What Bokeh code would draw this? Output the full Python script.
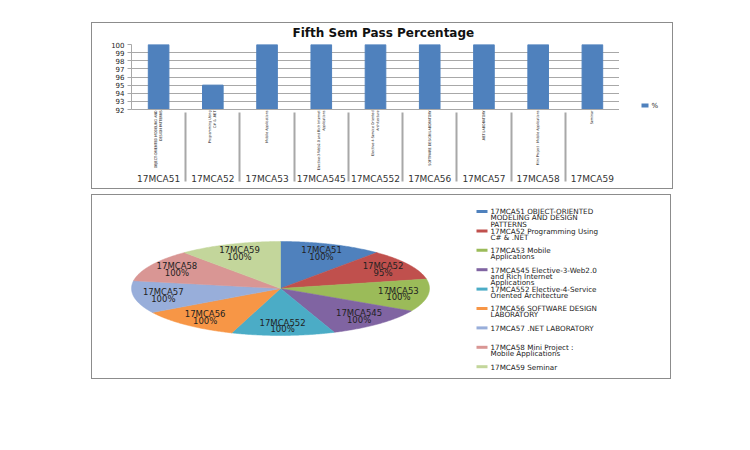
import numpy as np
from bokeh.plotting import figure
from bokeh.models import (FactorRange, Range1d, FixedTicker, Spacer, ColumnDataSource)
from bokeh.layouts import column, row
from bokeh.core.properties import value
from bokeh.embed import file_html
from bokeh.resources import INLINE

# ---------------- data ----------------
codes = ["17MCA51", "17MCA52", "17MCA53", "17MCA545", "17MCA552",
         "17MCA56", "17MCA57", "17MCA58", "17MCA59"]
axis_names = ["OBJECT-ORIENTED MODELING AND\nDESIGN PATTERNS",
              "Programming Using\nC# & .NET",
              "Mobile Applications",
              "Elective-3-Web2.0 and Rich Internet\nApplications",
              "Elective-4-Service Oriented\nArchitecture",
              "SOFTWARE DESIGN LABORATORY",
              ".NET LABORATORY",
              "Mini Project : Mobile Applications",
              "Seminar"]
legend_names = ["17MCA51 OBJECT-ORIENTED\nMODELING AND DESIGN\nPATTERNS",
                "17MCA52 Programming Using\nC# & .NET",
                "17MCA53 Mobile\nApplications",
                "17MCA545 Elective-3-Web2.0\nand Rich Internet\nApplications",
                "17MCA552 Elective-4-Service\nOriented Architecture",
                "17MCA56 SOFTWARE DESIGN\nLABORATORY",
                "17MCA57 .NET LABORATORY",
                "17MCA58 Mini Project :\nMobile Applications",
                "17MCA59 Seminar"]
pass_pct = [100, 95, 100, 100, 100, 100, 100, 100, 100]
y_ticks = [92, 93, 94, 95, 96, 97, 98, 99, 100]
series_name = "%"
slice_colors = ["#4F81BD", "#C0504D", "#9BBB59", "#8064A2", "#4BACC6",
                "#F79646", "#98AEDA", "#D99694", "#C3D69B"]

FONT = "DejaVu Sans"
GRID = "#a8a8a8"
BOX = "1px solid #8c8c8c"

# ---------------- bar chart ----------------
factors = list(zip(codes, axis_names))
xr = FactorRange(factors=factors, factor_padding=0, group_padding=0,
                 subgroup_padding=0, range_padding=0)
p1 = figure(x_range=xr, y_range=Range1d(y_ticks[0], y_ticks[-1]),
            width=527, height=165, output_backend="svg", toolbar_location=None,
            min_border_left=39, min_border_right=0, min_border_top=20,
            min_border_bottom=79, title="Fifth Sem Pass Percentage")
p1.outline_line_color = None
p1.title.align = "left"
p1.title.offset = 161
p1.title.standoff = 5
p1.title.vertical_align = "top"
p1.title.text_font = FONT
p1.title.text_font_size = "12px"
p1.title.text_font_style = "bold"
p1.title.text_color = "#111111"

src = ColumnDataSource(dict(x=factors, top=pass_pct))
bars = p1.vbar(x="x", top="top", bottom=y_ticks[0], width=0.38, source=src,
               fill_color=slice_colors[0], line_color=slice_colors[0])

p1.yaxis.ticker = FixedTicker(ticks=y_ticks)
p1.yaxis.major_label_text_font = FONT
p1.yaxis.major_label_text_font_size = "7px"
p1.yaxis.major_label_text_color = "#222222"
p1.yaxis.major_tick_out = 4
p1.yaxis.major_tick_in = 0
p1.yaxis.minor_tick_line_color = None
p1.yaxis.axis_line_color = GRID
p1.yaxis.major_tick_line_color = GRID
p1.yaxis.major_label_standoff = 3
p1.ygrid.ticker = FixedTicker(ticks=y_ticks)
p1.ygrid.grid_line_color = GRID
p1.xgrid.grid_line_color = None

xa = p1.xaxis[0]
xa.major_label_orientation = np.pi / 2
xa.major_label_text_font = "Liberation Sans Narrow, DejaVu Sans Condensed, sans-serif"
xa.major_label_text_font_size = "3.7px"
xa.major_label_text_color = "#222222"
xa.major_label_standoff = 1
xa.major_tick_line_color = None
xa.major_tick_out = 0
xa.major_tick_in = 0
xa.axis_line_color = GRID
xa.group_text_font = FONT
xa.group_text_font_size = "9px"
xa.group_text_color = "#333333"
xa.group_text_font_style = "normal"
xa.separator_line_color = GRID

# legend strip of the bar chart (Excel-style "%" key, right of the plot area)
# (its frame is aligned by the row with the bar chart's plot area)
LW = 53
p_leg = figure(width=LW, height=165, output_backend="svg", toolbar_location=None,
               x_range=Range1d(0, LW), y_range=Range1d(0, 1), min_border=0,
               x_axis_location=None, y_axis_location=None)
p_leg.outline_line_color = None
p_leg.grid.visible = False
p_leg.rect(x=[25.5], y=[0.06], width=7, height=4, width_units="screen",
           height_units="screen", fill_color=slice_colors[0], line_color=None)
p_leg.text(x=[32], y=[0.06], text=[series_name], text_align="left",
           text_baseline="middle", text_font=value(FONT), text_font_size="7px",
           text_color="#222222")

box1 = row(p1, p_leg)
box1.styles = {"border": BOX}

# ---------------- pie chart ----------------
W2, H2 = 580, 185
cx, cy, rx, ry = 188, 93, 149, 47          # pie centre / radii in px (layout)

def px_x(px):
    return (px - cx) / rx

def px_y(py):
    return (cy - py) / ry

p2 = figure(width=W2, height=H2, output_backend="svg", toolbar_location=None,
            x_range=Range1d(px_x(0), px_x(W2)), y_range=Range1d(px_y(H2), px_y(0)),
            min_border=0, x_axis_location=None, y_axis_location=None)
p2.styles = {"border": BOX}
p2.outline_line_color = None
p2.grid.visible = False

total = float(sum(pass_pct))
cum = np.concatenate([[0.0], np.cumsum(pass_pct)]) / total
xs, ys, lx, ly, ltxt = [], [], [], [], []
for i, v in enumerate(pass_pct):
    a0 = np.pi / 2 - 2 * np.pi * cum[i]
    a1 = np.pi / 2 - 2 * np.pi * cum[i + 1]
    t = np.linspace(a0, a1, 80)
    xs.append(np.concatenate([[0.0], np.cos(t)]))
    ys.append(np.concatenate([[0.0], np.sin(t)]))
    am = (a0 + a1) / 2
    lx.append(0.8 * np.cos(am))
    ly.append(0.8 * np.sin(am))
    ltxt.append(f"{codes[i]}\n{v}%")

psrc = ColumnDataSource(dict(xs=xs, ys=ys, color=slice_colors))
p2.patches("xs", "ys", source=psrc, fill_color="color", line_color="color",
           line_width=0.5)
p2.text(x=lx, y=ly, text=ltxt, text_align="center", text_baseline="middle",
        text_font=value(FONT), text_font_size="8.5px", text_color="#222222",
        text_line_height=0.68)

# legend (manual, Excel style: fixed slot per entry)
leg_x0, leg_x1, leg_tx = 384, 395, 398
leg_y0, leg_step = 16, 19.4
sy = [px_y(leg_y0 + i * leg_step) for i in range(len(codes))]
p2.segment(x0=[px_x(leg_x0)] * len(codes), x1=[px_x(leg_x1)] * len(codes),
           y0=sy, y1=sy, line_color=slice_colors, line_width=3)
ty = [px_y(leg_y0 + i * leg_step - 4.2) for i in range(len(codes))]
p2.text(x=[px_x(leg_tx)] * len(codes), y=ty, text=legend_names,
        text_align="left", text_baseline="top", text_font=value(FONT),
        text_font_size="7.2px", text_color="#222222", text_line_height=0.68)

layout = column(Spacer(height=22),
                row(Spacer(width=91), box1),
                Spacer(height=5),
                row(Spacer(width=91), p2))

open("out.html", "w").write(file_html(layout, INLINE))
